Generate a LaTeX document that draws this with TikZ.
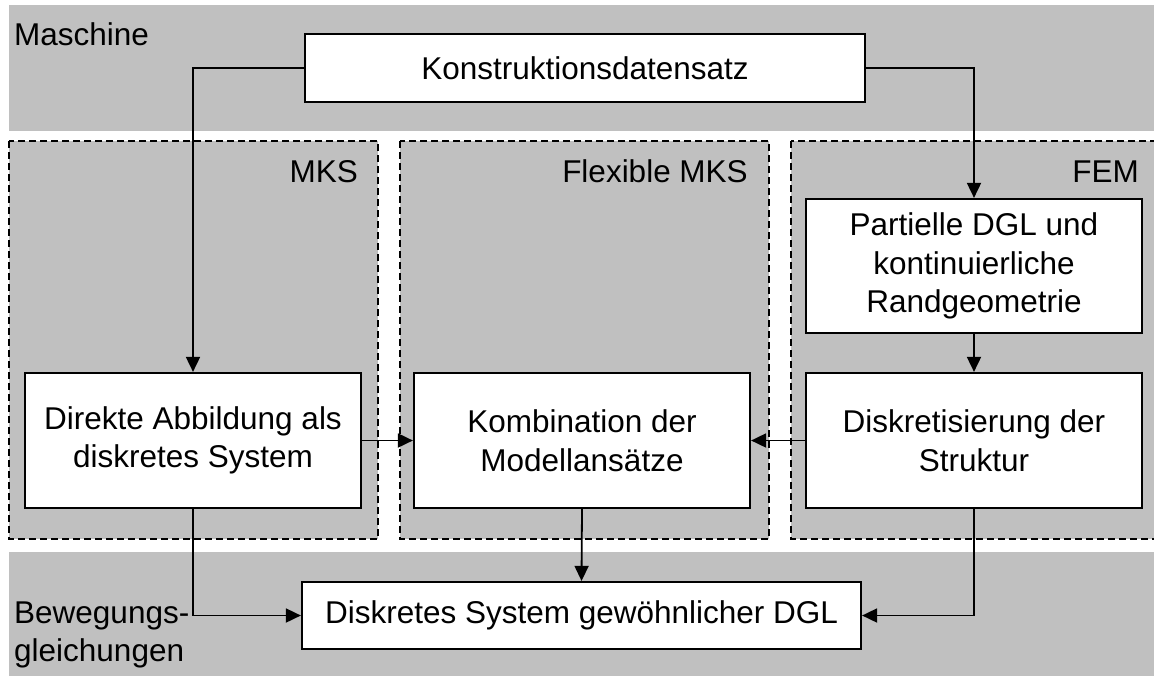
\documentclass[tikz,border=0pt]{standalone}
\usepackage{fontspec}
\setmainfont{Liberation Sans}
\usetikzlibrary{arrows.meta}
\definecolor{bandgray}{RGB}{192,192,192}
\tikzset{
  band/.style={fill=bandgray, draw=none},
  region/.style={fill=bandgray, draw=black, line width=1.8pt, dash pattern=on 7pt off 4pt},
  box/.style={draw=black, fill=white, line width=2.2pt, align=center, inner sep=0pt,
    font=\fontsize{31.5}{38.5}\selectfont},
  lbl/.style={inner sep=0pt, font=\fontsize{31.5}{38.5}\selectfont},
  conn/.style={line width=1.8pt, -{Triangle[length=15pt,width=14pt]}},
}
\begin{document}
\begin{tikzpicture}[x=1pt,y=-1pt]
\useasboundingbox (0,0) rectangle (1154,675);
\clip (0,0) rectangle (1154,675);
% bands
\fill[bandgray] (9,5) rectangle (1170,131);
\fill[bandgray] (9,552) rectangle (1170,690);
% dashed regions
\draw[region] (9,141) rectangle (378,539);
\draw[region] (400,141) rectangle (769,539);
\draw[region] (791,141) rectangle (1170,539);
% labels
\node[lbl, anchor=base west] (maschine) at (14,45) {Maschine};
\node[lbl, anchor=base east] (mks) at (358,182) {MKS};
\node[lbl, anchor=base east] (flex) at (748,182) {Flexible MKS};
\node[lbl, anchor=base east] (fem) at (1139,182) {FEM};
\node[lbl, anchor=base west, align=left] (beweg) at (14,623) {Bewegungs-};
\node[lbl, anchor=base west, align=left] (gleich) at (14,661) {gleichungen};
% boxes
\node[box, minimum width=560pt, minimum height=68pt] (konst) at (585,68) {Konstruktionsdatensatz};
\node[box, minimum width=336pt, minimum height=134pt] (part) at (974,266) {Partielle DGL und\\kontinuierliche\\Randgeometrie};
\node[box, minimum width=336pt, minimum height=135pt] (direkt) at (193,440.5) {Direkte Abbildung als\\diskretes System};
\node[box, minimum width=336pt, minimum height=135pt] (komb) at (582,440.5) {Kombination der\\Modellans\"atze};
\node[box, minimum width=336pt, minimum height=135pt] (diskr) at (974,440.5) {Diskretisierung der\\Struktur};
\node[box, minimum width=559pt, minimum height=67pt] (dgl) at (581.5,615.5) {Diskretes System gew\"ohnlicher DGL};
% connectors
\draw[conn] (konst.west) -| (direkt.north);
\draw[conn] (konst.east) -| (part.north);
\draw[conn] (part.south) -- (diskr.north);
\draw[conn] (direkt.east) -- (komb.west);
\draw[conn] (diskr.west) -- (komb.east);
\draw[conn] (komb.south) -- (dgl.north);
\draw[conn] (direkt.south) |- (dgl.west);
\draw[conn] (diskr.south) |- (dgl.east);
\end{tikzpicture}
\end{document}
